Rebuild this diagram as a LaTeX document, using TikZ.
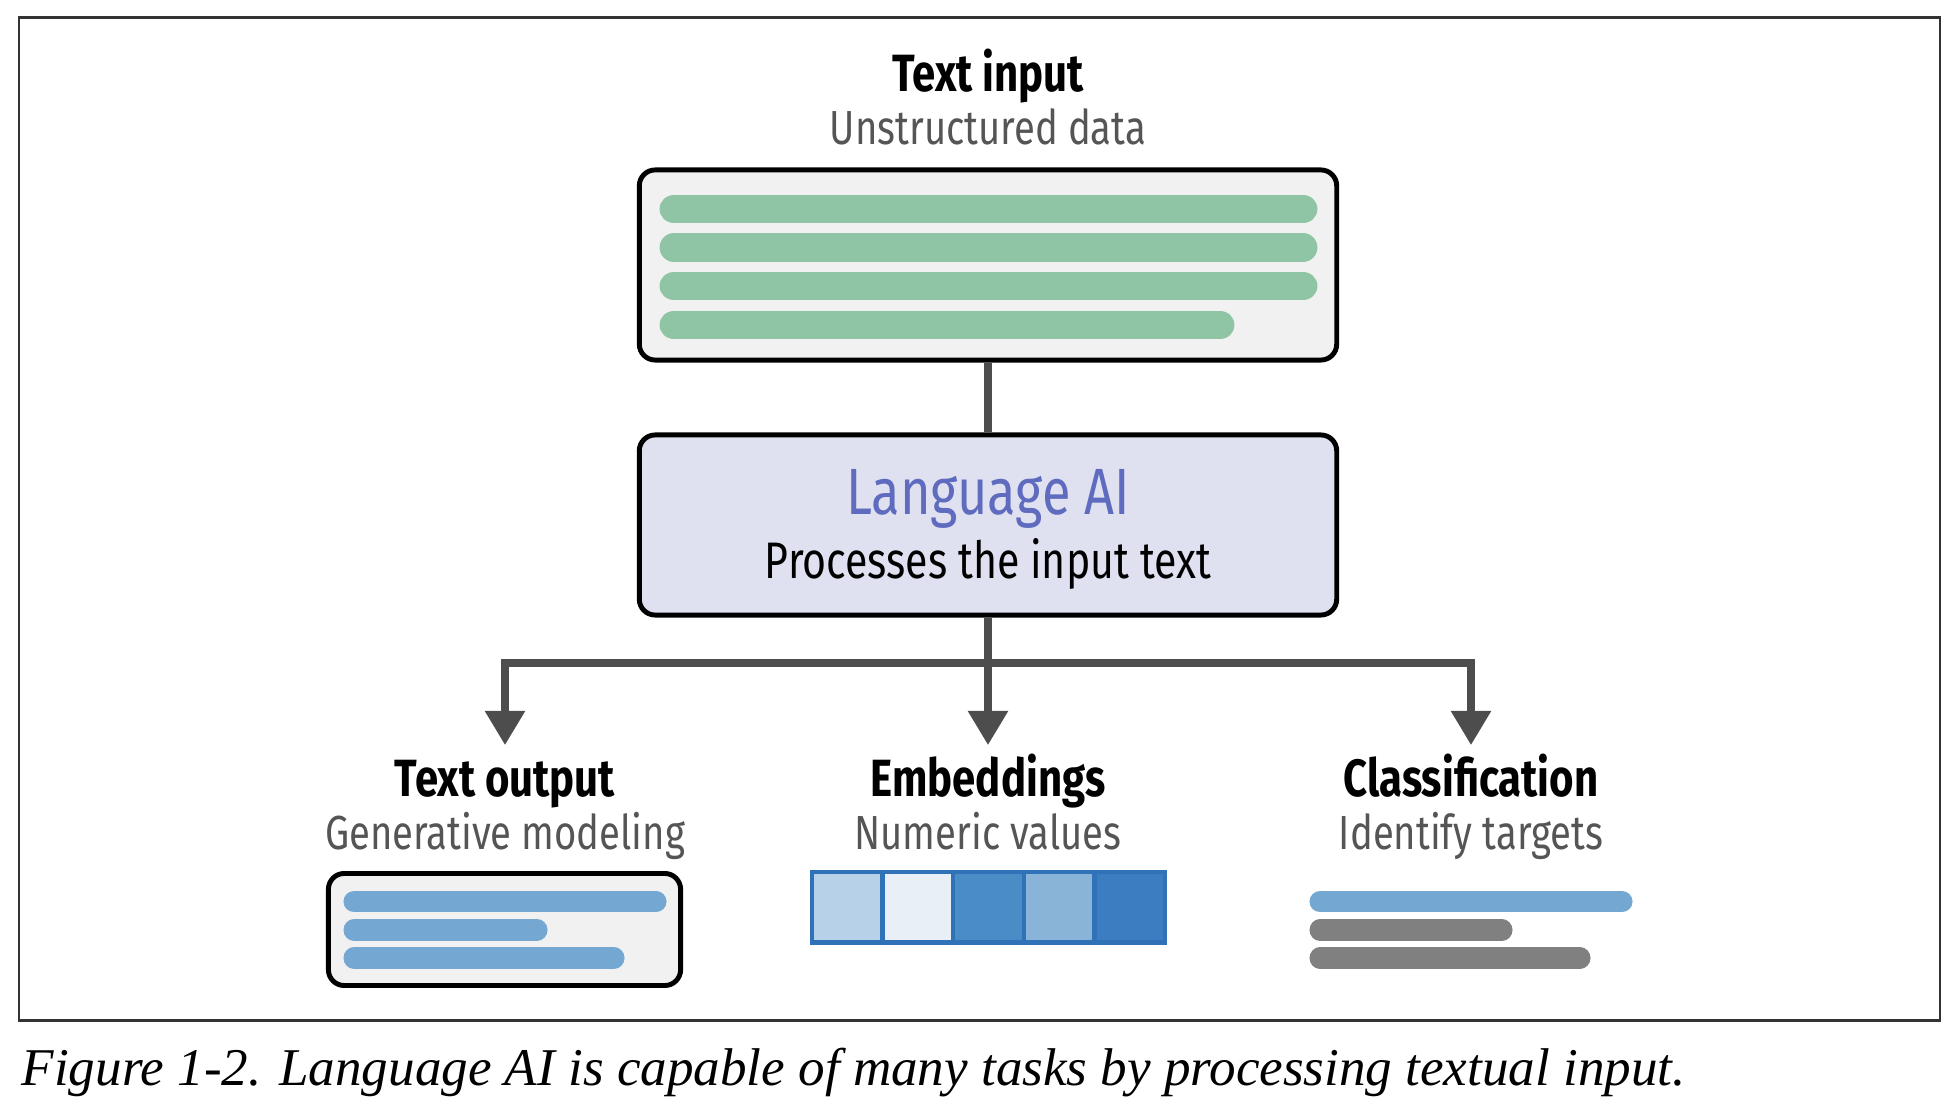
\documentclass[tikz,border=0pt]{standalone}
\usepackage{fontspec}
\setsansfont{Fira Sans}[FakeStretch=0.8]
\newfontfamily\capfont{Liberation Serif}
\usetikzlibrary{positioning, arrows.meta}

\definecolor{panelgray}{RGB}{241,241,241}
\definecolor{aifill}{RGB}{223,224,240}
\definecolor{aiblue}{RGB}{94,107,190}
\definecolor{subgray}{RGB}{85,85,85}
\definecolor{conngray}{RGB}{77,77,77}
\definecolor{bargreen}{RGB}{143,197,165}
\definecolor{barblue}{RGB}{116,167,210}
\definecolor{bargray}{RGB}{128,128,128}
\definecolor{embborder}{RGB}{47,114,184}
\definecolor{embA}{RGB}{183,209,232}
\definecolor{embB}{RGB}{232,239,247}
\definecolor{embC}{RGB}{74,140,198}
\definecolor{embD}{RGB}{138,179,216}
\definecolor{embE}{RGB}{59,125,192}

\begin{document}
\begin{tikzpicture}[x=0.01cm, y=-0.01cm,
  panel/.style={draw=black, line width=1.4pt, rounded corners=4.5pt, fill=panelgray, inner sep=0pt},
  head/.style={font=\sffamily\bfseries\fontsize{14.9}{18}\selectfont, text height=10.5pt, text depth=3pt, inner sep=4pt, anchor=base},
  subhead/.style={font=\sffamily\fontsize{13.6}{16}\selectfont, text=subgray, anchor=base},
  conn/.style={draw=conngray, line width=2pt},
  arrowtip/.style={-{Triangle[width=11pt, length=9.7pt]}},
  textbar/.style={line width=#1, line cap=round},
  cell/.style={fill=#1, draw=embborder, line width=1.3pt},
]
  \path[use as bounding box] (0,0) rectangle (1960,1116);
  \draw[black!80, line width=0.6pt] (19,17.5) rectangle (1940,1020.5);

  % input
  \node[head] (inT) at (988,91.7) {Text input};
  \node[subhead] (inS) at (988,145) {Unstructured data};
  \node[panel, minimum width=6.97cm, minimum height=1.9cm] (input) at (988,265) {};
  \foreach \y/\e in {209/1303, 247.5/1303, 286/1303, 325/1220}
    \draw[textbar=8.2pt, bargreen] (674,\y) -- (\e,\y);

  % language model
  \node[panel, fill=aifill, minimum width=6.97cm, minimum height=1.8cm] (ai) at (988,525) {};
  \node[anchor=base, text=aiblue, font=\sffamily\fontsize{18.6}{22}\selectfont] (aiT) at (988,515) {Language AI};
  \node[anchor=base, font=\sffamily\fontsize{14.6}{17}\selectfont] (aiS) at (988,578.3) {Processes the input text};

  % outputs
  \node[head] (outT) at (505,796.7) {Text output};
  \node[subhead] (outS) at (505,850) {Generative modeling};
  \node[head] (embT) at (988,796.7) {Embeddings};
  \node[subhead] (embS) at (988,850) {Numeric values};
  \node[head] (clsT) at (1471,796.7) {Classification};
  \node[subhead] (clsS) at (1471,850) {Identify targets};

  \coordinate (split) at (988,663);
  \draw[conn] (input) -- (ai);
  \draw[conn] (ai) -- (split);
  \draw[conn, arrowtip] (split) -| (outT.north);
  \draw[conn, arrowtip] (split) -- (embT.north);
  \draw[conn, arrowtip] (split) -| (clsT.north);

  % text output
  \node[panel, minimum width=3.52cm, minimum height=1.12cm] (outbox) at (504.5,929.5) {};
  \foreach \y/\e in {901.7/656, 930/537, 958/614}
    \draw[textbar=6pt, barblue] (354,\y) -- (\e,\y);

  % embeddings
  \foreach \i/\c in {0/embA, 1/embB, 2/embC, 3/embD, 4/embE}
    \draw[cell=\c] (812+70.6*\i,872) rectangle +(70.6,70.5);

  % classification
  \draw[textbar=6pt, barblue] (1320,901.7) -- (1622,901.7);
  \draw[textbar=6pt, bargray] (1320,930) -- (1502,930);
  \draw[textbar=6pt, bargray] (1320,958) -- (1580,958);

  \node[anchor=base west, inner sep=0pt, font=\capfont\itshape\fontsize{15.1}{18}\selectfont] (cap) at (21,1085)
    {Figure 1-2. Language AI is capable of many tasks by processing textual input.};
\end{tikzpicture}
\end{document}
